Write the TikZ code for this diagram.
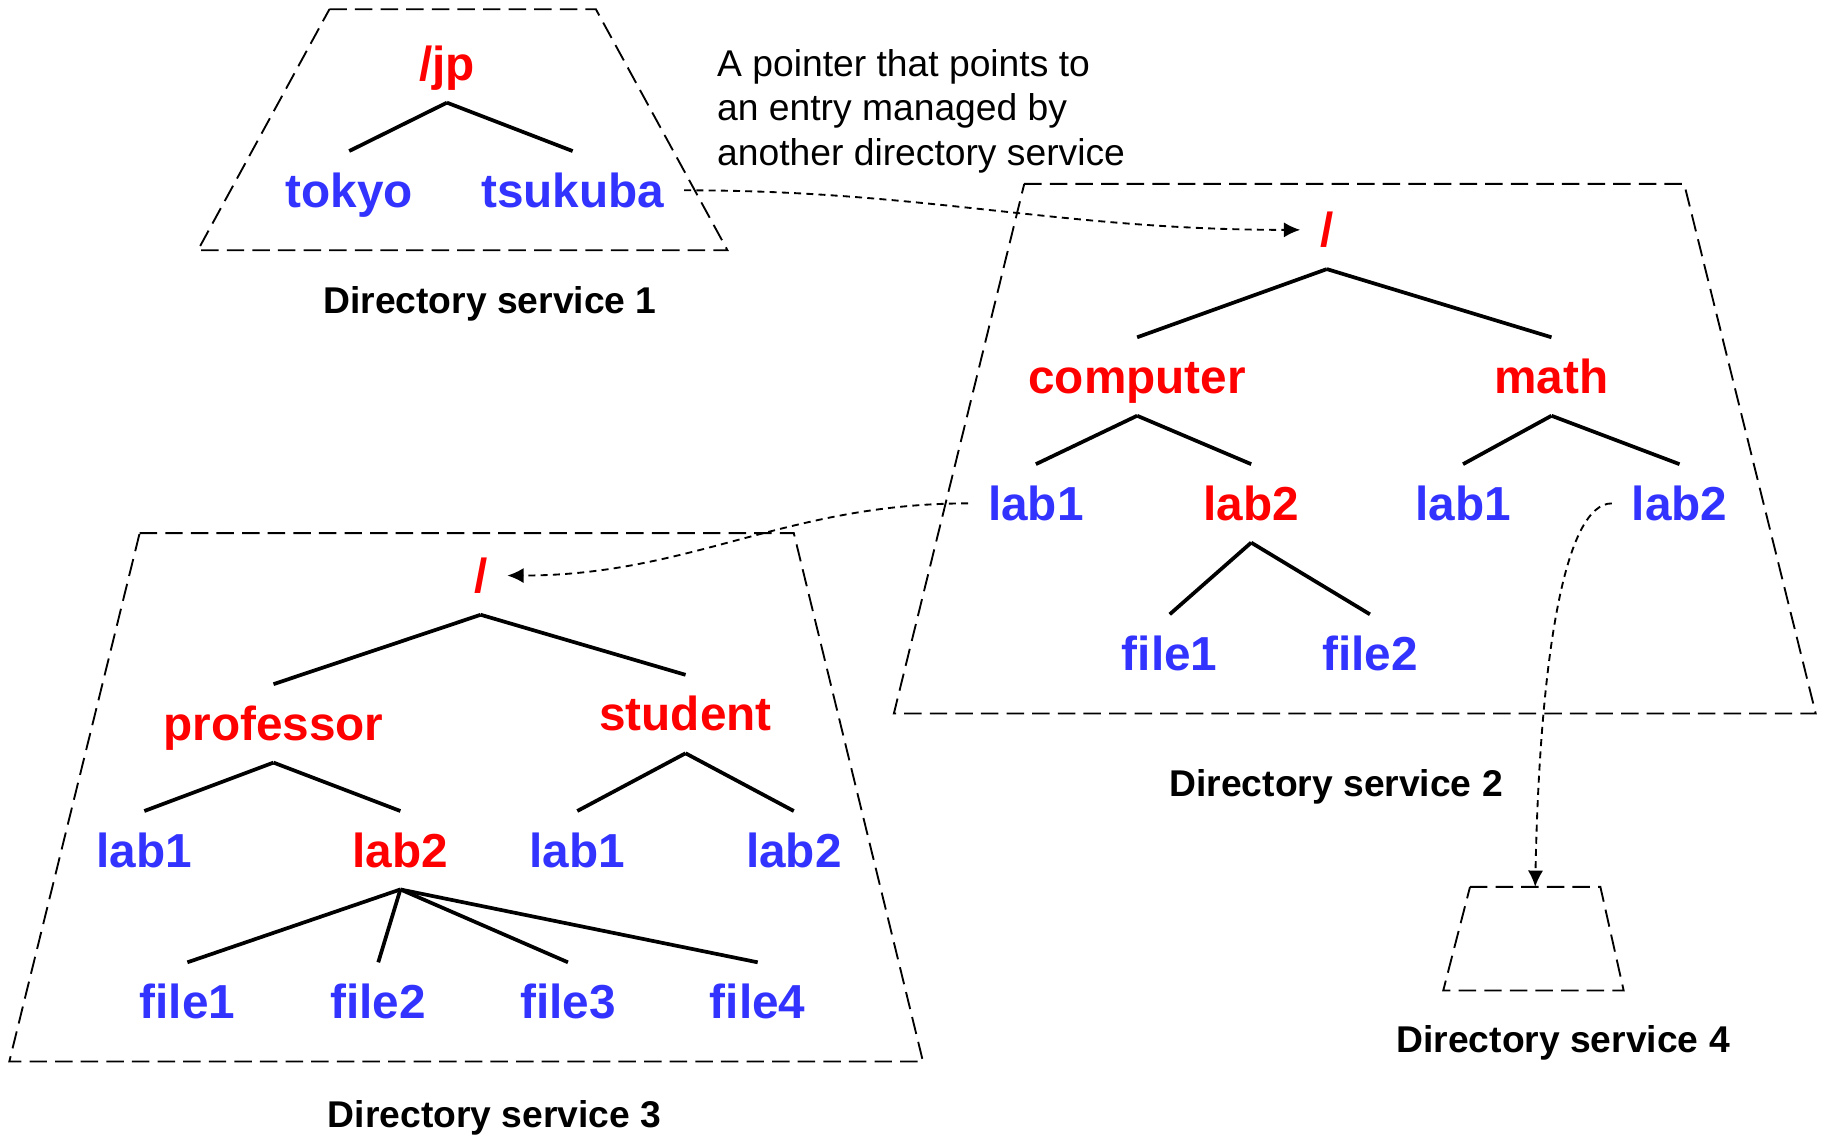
\documentclass[tikz,border=0pt]{standalone}
\usepackage{fontspec}
\setmainfont{Liberation Sans}
\usetikzlibrary{arrows.meta}
\definecolor{dirred}{RGB}{255,0,0}
\definecolor{dirblue}{RGB}{51,51,255}
\tikzset{
  entry/.style = {
    font=\fontsize{41}{49}\selectfont\bfseries,
    inner xsep=17pt, inner ysep=10pt,
    text height=38pt, text depth=9pt, anchor=base
  },
  folder/.style = {entry, text=dirred},
  leaf/.style = {entry, text=dirblue},
  caption/.style = {font=\fontsize{32}{38}\selectfont\bfseries, inner sep=0pt, anchor=base},
  note/.style = {font=\fontsize{32}{38.5}\selectfont, inner sep=0pt, align=left, anchor=north west},
  service/.style = {dash pattern=on 15pt off 7pt, line width=1.6pt},
  branch/.style = {line width=3.2pt},
  pointer/.style = {->, dash pattern=on 6pt off 4.5pt, line width=1.6pt}
}
\tikzset{>={Latex[length=14pt,width=13pt]}}

\begin{document}
\begin{tikzpicture}[x=1pt,y=-1pt]
  \useasboundingbox (0,0) rectangle (1568,976);

  % directory service 1
  \draw[service] (283,8) -- (512,8) -- (625,215) -- (170,215) -- cycle;
  \node[folder] (jp) at (384,69) {/jp};
  \node[leaf] (tokyo) at (300,178) {tokyo};
  \node[leaf] (tsukuba) at (492,178) {tsukuba};
  \foreach \c in {tokyo,tsukuba}
    \draw[branch] (jp.south) -- (\c.north);
  \node[caption] (ds1) at (421,269) {Directory service 1};

  \node[note] (note) at (616,42) {A pointer that points to\\an entry managed by\\another directory service};

  % directory service 2
  \draw[service] (880,158) -- (1447,158) -- (1560,613) -- (768,613) -- cycle;
  \node[folder] (root2) at (1140,212) {/};
  \node[folder] (computer) at (977,338) {computer};
  \node[folder] (math) at (1333,338) {math};
  \node[leaf] (clab1) at (890,447) {lab1};
  \node[folder] (clab2) at (1075,447) {lab2};
  \node[leaf] (mlab1) at (1257,447) {lab1};
  \node[leaf] (mlab2) at (1443,447) {lab2};
  \node[leaf] (cfile1) at (1005,576) {file1};
  \node[leaf] (cfile2) at (1177,576) {file2};
  \foreach \c in {computer,math}
    \draw[branch] (root2.south) -- (\c.north);
  \foreach \c in {clab1,clab2}
    \draw[branch] (computer.south) -- (\c.north);
  \foreach \c in {mlab1,mlab2}
    \draw[branch] (math.south) -- (\c.north);
  \foreach \c in {cfile1,cfile2}
    \draw[branch] (clab2.south) -- (\c.north);
  \node[caption] (ds2) at (1148,684) {Directory service 2};

  % directory service 3
  \draw[service] (120,458) -- (682,458) -- (793,912) -- (8,912) -- cycle;
  \node[folder] (root3) at (413,509) {/};
  \node[folder] (professor) at (235,636) {professor};
  \node[folder] (student) at (589,628) {student};
  \node[leaf] (plab1) at (124,745) {lab1};
  \node[folder] (plab2) at (344,745) {lab2};
  \node[leaf] (slab1) at (496,745) {lab1};
  \node[leaf] (slab2) at (682,745) {lab2};
  \node[leaf] (pfile1) at (161,875) {file1};
  \node[leaf] (pfile2) at (325,875) {file2};
  \node[leaf] (pfile3) at (488,875) {file3};
  \node[leaf] (pfile4) at (651,875) {file4};
  \foreach \c in {professor,student}
    \draw[branch] (root3.south) -- (\c.north);
  \foreach \c in {plab1,plab2}
    \draw[branch] (professor.south) -- (\c.north);
  \foreach \c in {slab1,slab2}
    \draw[branch] (student.south) -- (\c.north);
  \foreach \c in {pfile1,pfile2,pfile3,pfile4}
    \draw[branch] (plab2.south) -- (\c.north);
  \node[caption] (ds3) at (425,969) {Directory service 3};

  % directory service 4
  \draw[service] (1263,762) -- (1375,762) -- (1395,851) -- (1240,851) -- cycle;
  \coordinate (ds4top) at (1319,762);
  \node[caption] (ds4) at (1343,904) {Directory service 4};

  % pointers between services
  \draw[pointer] (tsukuba.east) to[out=0,in=180] (root2.west);
  \draw[pointer] (clab1.west) to[out=180,in=0] (root3.east);
  \draw[pointer] (mlab2.west) .. controls +(-40,0) and +(4,-200) .. (ds4top);
\end{tikzpicture}
\end{document}
